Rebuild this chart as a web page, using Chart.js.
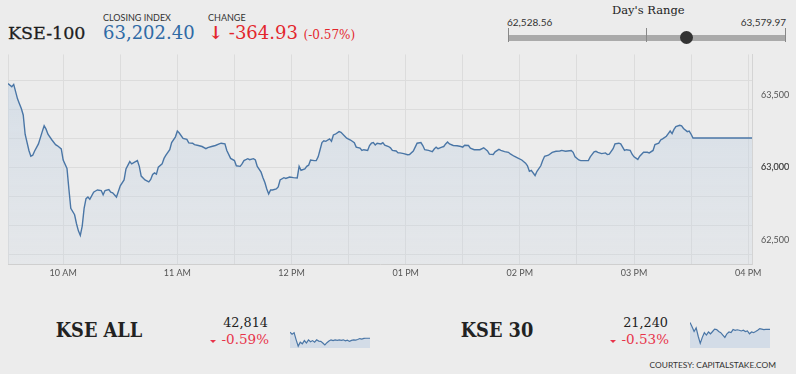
<!DOCTYPE html>
<html lang="en">
<head>
<meta charset="UTF-8">
<title>KSE-100</title>
<script src="https://cdn.jsdelivr.net/npm/chart.js"></script>
<style>
    body { margin: 0; background: #ececec; width: 796px; height: 374px; overflow: hidden; position: relative; font-family: Lato, sans-serif; }
    .abs { position: absolute; white-space: nowrap; line-height: 1; }
    .serif { font-family: "DejaVu Serif", serif; }
    .cap { font-size: 9px; color: #333; }
    .red { color: #e3262c; }
    .name { font-size: 20.5px; font-weight: bold; color: #222; transform: scaleX(0.865); text-align: center; width: 198px; top: 320px; }
    #mainWrap { position: absolute; left: 0; top: 40px; width: 796px; height: 250px; }
    .spark { position: absolute; top: 317px; width: 80px; height: 31px; }
    .tri { position: absolute; width: 0; height: 0; border-left: 3px solid transparent; border-right: 3px solid transparent; border-top: 3px solid #e8334a; }
</style>
</head>
<body>
<div class="abs serif" id="title" style="left:8px;top:25px;font-size:17.5px;color:#1e1e1e;-webkit-text-stroke:0.3px #1e1e1e">KSE-100</div>
<div class="abs cap" style="left:103px;top:12.5px">CLOSING INDEX</div>
<div class="abs serif" id="closeTxt" style="left:103px;top:24px;font-size:18px;color:#2f6aa6"></div>
<div class="abs cap" style="left:208px;top:12.5px">CHANGE</div>
<div class="abs serif red" id="chgTxt" style="left:208px;top:24px;font-size:18px"></div>

<div class="abs serif" style="left:612px;top:5px;font-size:11.5px;color:#222">Day's Range</div>
<div class="abs" id="lowTxt" style="left:507px;top:16.5px;font-size:10px;color:#333"></div>
<div class="abs" id="highTxt" style="right:10px;top:16.5px;font-size:10px;color:#333"></div>
<div style="position:absolute;left:508px;top:34.5px;width:278px;height:6px;background:#aaa"></div>
<div style="position:absolute;left:508px;top:28px;width:1px;height:14px;background:#888"></div>
<div style="position:absolute;left:646px;top:28px;width:1px;height:14px;background:#888"></div>
<div style="position:absolute;left:785px;top:28px;width:1px;height:14px;background:#888"></div>
<div id="dot" style="position:absolute;top:31px;width:13px;height:13px;border-radius:50%;background:#333"></div>

<div id="mainWrap"><canvas id="mainChart"></canvas></div>

<div class="abs serif name" style="left:0">KSE ALL</div>
<div class="abs serif" id="allVal" style="right:528px;top:317px;font-size:12.8px;color:#222"></div>
<div class="tri" style="left:210px;top:340px"></div>
<div class="abs serif" id="allPct" style="right:527px;top:333px;font-size:13.5px;color:#e8334a"></div>
<div class="spark" style="left:290px"><canvas id="sparkAll"></canvas></div>

<div class="abs serif name" style="left:398px">KSE 30</div>
<div class="abs serif" id="k30Val" style="right:128px;top:317px;font-size:12.8px;color:#222"></div>
<div class="tri" style="left:610px;top:340px"></div>
<div class="abs serif" id="k30Pct" style="right:127px;top:333px;font-size:13.5px;color:#e8334a"></div>
<div class="spark" style="left:690px"><canvas id="spark30"></canvas></div>

<div class="abs" style="right:20px;top:360.5px;font-size:8.4px;color:#333">COURTESY: CAPITALSTAKE.COM</div>

<script>
// headline numbers
const closeIndex = 63202.40;
const changePts = -364.93;
const changePct = -0.57;
const dayLow = 62528.56;
const dayHigh = 63579.97;

// intraday KSE-100 (time, index)
const times = [
 '09:31','09:33','09:34','09:36','09:37','09:38','09:39','09:40','09:42','09:43','09:44','09:45','09:47','09:49','09:50','09:51','09:52','09:54','09:56','09:57','09:59',
 '10:00','10:02','10:03','10:04','10:06','10:07','10:08','10:09','10:10','10:11','10:12','10:13','10:14','10:16','10:17','10:18','10:20','10:21','10:22','10:24','10:25','10:26','10:28','10:29',
 '10:30','10:32','10:33','10:35','10:36','10:38','10:39','10:40','10:41','10:43','10:45','10:46','10:47','10:48','10:49','10:50','10:52','10:53','10:54','10:56','10:57','10:59',
 '11:00','11:01','11:03','11:05','11:06','11:08','11:09','11:11','11:13','11:15','11:16','11:18','11:20','11:22','11:23','11:25','11:26','11:28',
 '11:30','11:31','11:33','11:34','11:35','11:37','11:38','11:40','11:41','11:42','11:44','11:45','11:46','11:47','11:48','11:49','11:50','11:52','11:53','11:54','11:56','11:57','11:59',
 '12:01','12:03','12:04','12:05','12:07','12:08','12:09','12:10','12:12','12:13','12:14','12:15','12:16','12:17','12:18','12:20','12:21','12:22','12:23','12:25','12:26','12:28','12:29',
 '12:31','12:33','12:34','12:36','12:37','12:38','12:40','12:41','12:42','12:43','12:44','12:45','12:47','12:48','12:49','12:51','12:52','12:53','12:55','12:56','12:57','12:59',
 '13:01','13:02','13:04','13:05','13:06','13:08','13:09','13:10','13:12','13:14','13:15','13:16','13:17','13:19','13:20','13:21','13:22','13:23','13:25','13:27','13:29',
 '13:30','13:31','13:33','13:34','13:36','13:37','13:39','13:41','13:43','13:44','13:46','13:47','13:49','13:50','13:52','13:54','13:55','13:57','13:59',
 '14:01','14:03','14:04','14:05','14:06','14:08','14:09','14:11','14:12','14:13','14:15','14:17','14:19','14:21','14:22','14:24','14:25','14:27','14:28','14:29',
 '14:31','14:32','14:34','14:36','14:37','14:39','14:40','14:41','14:43','14:45','14:46','14:47','14:49','14:50','14:52','14:53','14:55','14:56','14:58','14:59',
 '15:00','15:02','15:03','15:05','15:07','15:08','15:10','15:11','15:13','15:14','15:15','15:17','15:18','15:19','15:20','15:21','15:22','15:24','15:25','15:26','15:28','15:29',
 '15:30','15:31','16:02'
];
const values = [
 63578,63557,63573,63473,63440,63407,63362,63229,63117,63077,63084,63113,63162,63247,63287,63264,63229,63191,63157,63149,63127,
 63051,62993,62851,62717,62673,62611,62562,62530,62595,62717,62784,62795,62780,62829,62837,62844,62840,62811,62840,62847,62829,62824,62795,62833,
 62873,62913,62989,63040,63024,63040,63047,63007,62940,62913,62900,62917,62951,62962,62953,63002,63024,63062,63084,63122,63171,63211,
 63251,63237,63200,63193,63169,63167,63157,63151,63144,63129,63137,63144,63151,63162,63167,63162,63117,63062,
 63047,63011,63007,63024,63047,63060,63053,63060,63051,63007,62967,62929,62895,62851,62817,62844,62844,62851,62865,62913,62929,62924,62933,
 62929,62927,63007,62980,62989,63007,63015,63051,63047,63047,63073,63122,63171,63184,63180,63197,63180,63224,63229,63247,63242,63215,63202,
 63189,63171,63140,63133,63117,63122,63117,63151,63167,63171,63155,63167,63162,63171,63153,63144,63135,63117,63113,63100,63100,63095,
 63087,63089,63113,63140,63167,63171,63151,63122,63117,63109,63127,63140,63129,63140,63144,63162,63175,63162,63151,63149,63144,
 63140,63153,63151,63133,63122,63122,63122,63135,63113,63091,63089,63107,63124,63117,63109,63104,63093,63077,63064,
 63051,63029,63011,62973,62980,62944,62973,63011,63047,63077,63084,63104,63111,63113,63117,63111,63113,63117,63104,63073,
 63051,63047,63047,63047,63073,63107,63111,63104,63095,63100,63089,63091,63129,63162,63167,63162,63117,63122,63117,63091,
 63073,63055,63077,63104,63104,63100,63117,63157,63167,63189,63197,63215,63233,63251,63233,63262,63282,63291,63287,63269,63247,63251,
 63229,63202.40,63202.40
];

// axis ticks
const hourTicks = ['10:00','11:00','12:00','13:00','14:00','15:00','16:00'];
const hourLabels = ['10 AM','11 AM','12 PM','01 PM','02 PM','03 PM','04 PM'];
const halfHourTicks = ['10:30','11:30','12:30','13:30','14:30','15:30'];
const xStart = '09:31';
const xEnd = '16:02';
const yMin = 62333;
const yMax = 63780;
const yGridValues = [62400, 62600, 62800, 63000, 63200, 63400, 63600];
const yLabelValues = [62500, 63000, 63500];

// other indices
const kseAllValue = 42814;
const kseAllPct = -0.59;
const kse30Value = 21240;
const kse30Pct = -0.53;
const kseAllSpark = [43010,42943,42994,42764,42560,42688,42637,42739,42662,42764,42703,42739,42688,42764,42724,42713,42662,42601,42672,42724,42764,42739,42764,42749,42759,42744,42764,42734,42754,42713,42744,42764,42754,42775,42805,42790,42810,42814,42814,42814];
const kse30Spark = [21330,21275,21213,21259,21152,21060,21137,21198,21167,21207,21183,21213,21244,21238,21213,21198,21167,21137,21183,21207,21198,21238,21229,21235,21229,21220,21229,21213,21220,21183,21207,21198,21213,21229,21250,21244,21238,21240,21240,21240];

function toMin(t) {
    const p = t.split(':');
    return Number(p[0]) * 60 + Number(p[1]);
}
function fmt(v, d) {
    return v.toLocaleString('en-US', { minimumFractionDigits: d, maximumFractionDigits: d });
}

// header text
document.getElementById('closeTxt').textContent = fmt(closeIndex, 2);
document.getElementById('chgTxt').innerHTML = '<span style="font-weight:bold">\u2193</span> ' + fmt(changePts, 2) +
    ' <span style="font-size:12px">(' + fmt(changePct, 2) + '%)</span>';
document.getElementById('lowTxt').textContent = fmt(dayLow, 2);
document.getElementById('highTxt').textContent = fmt(dayHigh, 2);
const frac = (closeIndex - dayLow) / (dayHigh - dayLow);
document.getElementById('dot').style.left = (508 + frac * 278 - 6.5) + 'px';
document.getElementById('allVal').textContent = fmt(kseAllValue, 0);
document.getElementById('allPct').textContent = fmt(kseAllPct, 2) + '%';
document.getElementById('k30Val').textContent = fmt(kse30Value, 0);
document.getElementById('k30Pct').textContent = fmt(kse30Pct, 2) + '%';

// main chart
const points = times.map((t, i) => ({ x: toMin(t), y: values[i] }));
const xTickValues = [toMin(xStart)].concat(hourTicks.concat(halfHourTicks).map(toMin)).sort((a, b) => a - b);
const yTickValues = yGridValues.concat(yLabelValues).sort((a, b) => a - b);
const gridCol = '#dcdcdc';

function areaFill(c) {
    const chart = c.chart;
    const area = chart.chartArea;
    if (!area) return null;
    const g = chart.ctx.createLinearGradient(0, area.top, 0, area.bottom);
    g.addColorStop(0, 'rgba(196,212,228,0.6)');
    g.addColorStop(1, 'rgba(200,212,226,0.2)');
    return g;
}

new Chart(document.getElementById('mainChart'), {
    type: 'line',
    data: { datasets: [{ data: points, borderColor: '#4a76a6', borderWidth: 1.4, pointRadius: 0, fill: 'start', backgroundColor: areaFill, tension: 0 }] },
    options: {
        animation: false, responsive: true, maintainAspectRatio: false,
        layout: { padding: { left: 8, top: 7, right: 0, bottom: 0 } },
        plugins: { legend: { display: false }, tooltip: { enabled: false } },
        scales: {
            x: {
                type: 'linear', min: toMin(xStart), max: toMin(xEnd),
                afterBuildTicks: s => { s.ticks = xTickValues.map(v => ({ value: v })); },
                afterFit: s => { s.height = 26; },
                grid: { color: gridCol, drawTicks: false },
                border: { color: '#cfcfcf' },
                ticks: {
                    autoSkip: false, maxRotation: 0, padding: 4, color: '#555', font: { family: 'Lato', size: 9 },
                    callback: v => { const i = hourTicks.map(toMin).indexOf(v); return i >= 0 ? hourLabels[i] : ''; }
                }
            },
            y: {
                position: 'right', min: yMin, max: yMax,
                afterBuildTicks: s => { s.ticks = yTickValues.map(v => ({ value: v })); },
                afterFit: s => { s.width = 44; },
                grid: { color: c => yGridValues.includes(c.tick.value) ? gridCol : 'rgba(0,0,0,0)', drawTicks: false },
                border: { color: '#d4d4d4' },
                ticks: {
                    autoSkip: false, padding: 9, color: '#555', font: { family: 'Lato', size: 9 },
                    callback: v => yLabelValues.includes(v) ? fmt(v, 0) : ''
                }
            }
        }
    }
});

// sparklines
function spark(id, arr) {
    new Chart(document.getElementById(id), {
        type: 'line',
        data: { labels: arr.map((v, i) => i), datasets: [{ data: arr, borderColor: '#4a76a6', borderWidth: 1.2, pointRadius: 0, fill: 'start', backgroundColor: '#d3dce7', tension: 0 }] },
        options: {
            animation: false, responsive: true, maintainAspectRatio: false,
            layout: { padding: 0 },
            plugins: { legend: { display: false }, tooltip: { enabled: false } },
            scales: { x: { display: false }, y: { display: false } }
        }
    });
}
spark('sparkAll', kseAllSpark);
spark('spark30', kse30Spark);
</script>
</body>
</html>
